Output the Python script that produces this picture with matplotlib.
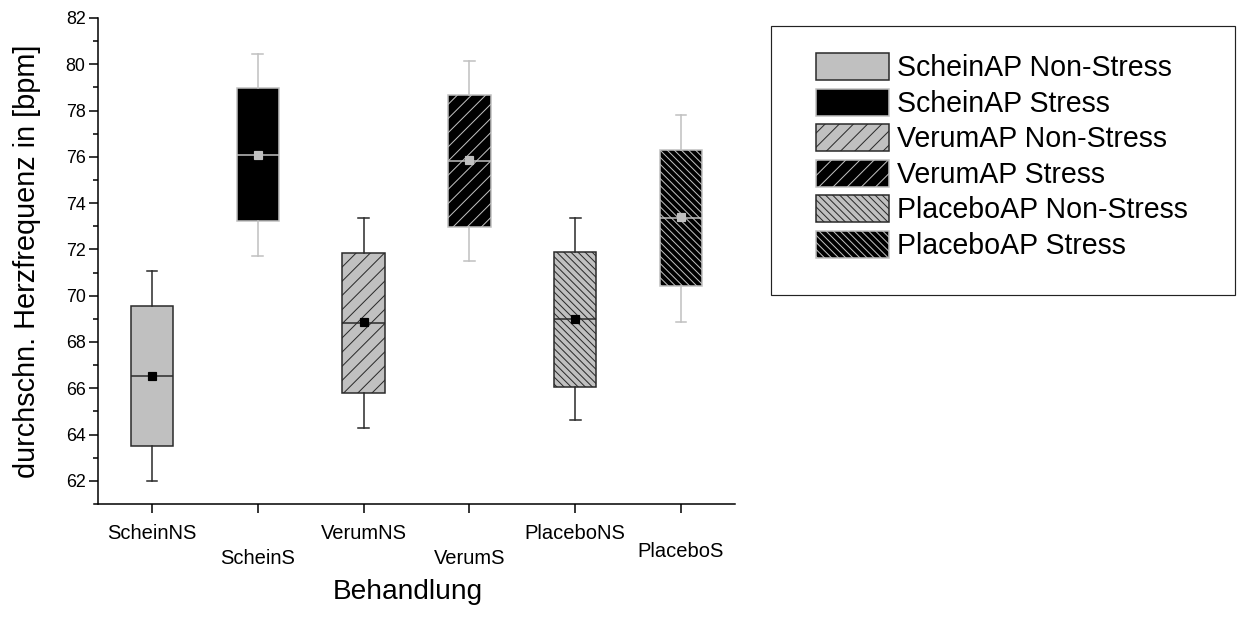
import matplotlib
matplotlib.use("Agg")
import matplotlib.pyplot as plt
from matplotlib.patches import Patch, Rectangle

# Heart rate summary per treatment group (bpm)
groups = ["ScheinNS", "ScheinS", "VerumNS", "VerumS", "PlaceboNS", "PlaceboS"]
legend_labels = ["ScheinAP Non-Stress", "ScheinAP Stress", "VerumAP Non-Stress",
                 "VerumAP Stress", "PlaceboAP Non-Stress", "PlaceboAP Stress"]
whisker_low = [62.0, 71.73, 64.30, 71.52, 64.63, 68.88]
quartile_1 = [63.51, 73.23, 65.81, 72.96, 66.07, 70.40]
medians = [66.54, 76.10, 68.84, 75.84, 69.00, 73.36]
means = [66.55, 76.10, 68.85, 75.85, 69.00, 73.38]
quartile_3 = [69.57, 78.96, 71.86, 78.69, 71.91, 76.31]
whisker_high = [71.07, 80.46, 73.37, 80.14, 73.37, 77.82]

GRAY = "#c0c0c0"
DARK = "#2a2a2a"
fills = [GRAY, "black", GRAY, "black", GRAY, "black"]
edges = [DARK, GRAY, DARK, GRAY, DARK, GRAY]
hatches = [None, None, "//", "//", "\\\\\\\\", "\\\\\\\\"]
mean_colors = ["black", GRAY, "black", GRAY, "black", GRAY]

plt.rcParams["font.family"] = ["Liberation Sans", "DejaVu Sans"]
plt.rcParams["hatch.linewidth"] = 0.85

DPI = 85
W, H = 1238, 624
fig = plt.figure(figsize=(W / DPI, H / DPI), dpi=DPI)
ax = fig.add_axes([98 / W, 1 - 504 / H, (735 - 98) / W, (504 - 18) / H])

stats = []
for i in range(len(groups)):
    stats.append(dict(label=groups[i], whislo=whisker_low[i], q1=quartile_1[i],
                      med=medians[i], q3=quartile_3[i], whishi=whisker_high[i],
                      mean=means[i], fliers=[]))

positions = list(range(1, len(groups) + 1))
bp = ax.bxp(stats, positions=positions, widths=0.4, patch_artist=True,
            showmeans=True, showfliers=False, capwidths=0.1, manage_ticks=False)

for i in range(len(groups)):
    box = bp["boxes"][i]
    box.set_facecolor(fills[i])
    box.set_edgecolor(edges[i])
    box.set_linewidth(1.3)
    if hatches[i]:
        box.set_hatch(hatches[i])
    for ln in bp["whiskers"][2 * i:2 * i + 2] + bp["caps"][2 * i:2 * i + 2]:
        ln.set_color(edges[i])
        ln.set_linewidth(1.3)
    bp["medians"][i].set_color(edges[i])
    bp["medians"][i].set_linewidth(1.3)
    m = bp["means"][i]
    m.set_marker("s")
    m.set_markersize(7.5)
    m.set_markerfacecolor(mean_colors[i])
    m.set_markeredgecolor(mean_colors[i])
    m.set_zorder(5)

ax.set_xlim(0.49, 6.51)
ax.set_ylim(61, 82)
ax.set_yticks(range(62, 83, 2))
ax.set_yticks(range(63, 82, 2), minor=True)
ax.set_xticks(positions)
ax.set_xticklabels(groups)

for s in ("top", "right"):
    ax.spines[s].set_visible(False)
for s in ("left", "bottom"):
    ax.spines[s].set_linewidth(1.3)
ax.spines["bottom"].set_bounds(0.45, 6.51)

ax.tick_params(axis="y", which="major", direction="out", length=7.5, width=1.3,
               labelsize=15.2, pad=3)
ax.tick_params(axis="y", which="minor", direction="out", length=4.5, width=1.3)
ax.tick_params(axis="x", which="major", direction="out", length=7.5, width=1.3,
               labelsize=17)

label_pads = [9.5, 30.5, 9.5, 30.5, 9.5, 24.5]
for tick, p in zip(ax.xaxis.get_major_ticks(), label_pads):
    tick.set_pad(p)

ax.set_ylabel("durchschn. Herzfrequenz in [bpm]", fontsize=24.5, va="center")
ax.yaxis.set_label_coords((27 - 98) / (735 - 98), 0.5)
fig.text(408 / W, 1 - 592 / H, "Behandlung", fontsize=23.7, ha="center", va="center")

handles = [Patch(facecolor=fills[i], edgecolor=edges[i], hatch=hatches[i],
                 linewidth=1.3, label=legend_labels[i]) for i in range(len(groups))]
fig.legend(handles=handles, loc="upper left", bbox_to_anchor=(816 / W, 1 - 53 / H),
           frameon=False, fontsize=24.2, borderpad=0, borderaxespad=0,
           handlelength=2.55, handleheight=1.08, handletextpad=0.28,
           labelspacing=0.22)
fig.add_artist(Rectangle((771 / W, 1 - 295 / H), (1235 - 771) / W, (295 - 26) / H,
                         transform=fig.transFigure, fill=False,
                         edgecolor="#222222", linewidth=1.0))

fig.savefig("out.png", dpi=DPI)
